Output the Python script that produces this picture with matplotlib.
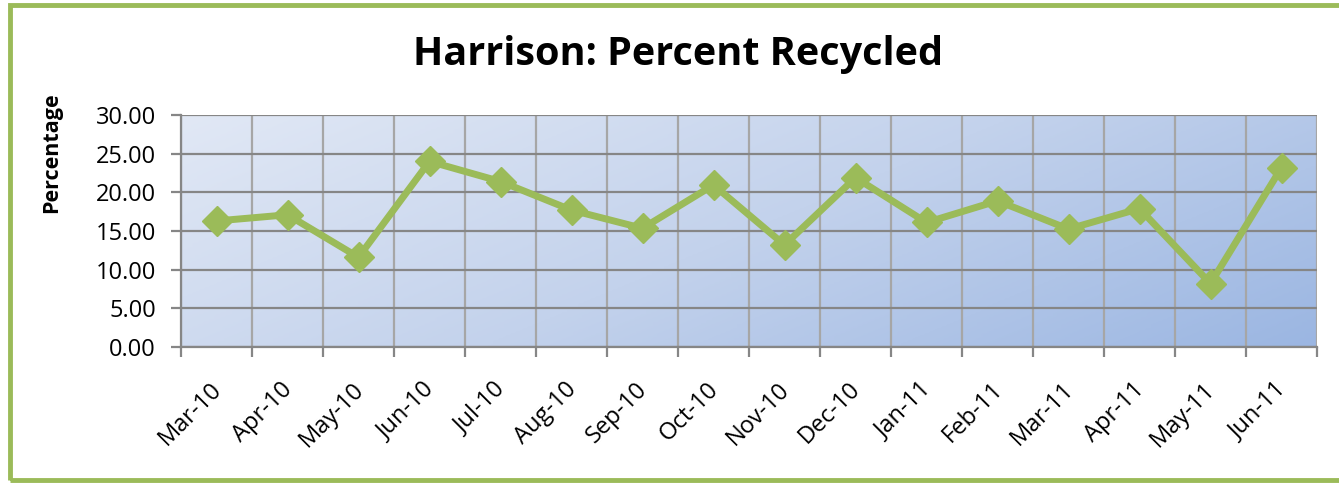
import numpy as np
import matplotlib.pyplot as plt
import matplotlib.transforms as mtransforms
from matplotlib.colors import LinearSegmentedColormap
from matplotlib.patches import Rectangle

# データ
months = ["Mar-10", "Apr-10", "May-10", "Jun-10", "Jul-10", "Aug-10", "Sep-10", "Oct-10",
          "Nov-10", "Dec-10", "Jan-11", "Feb-11", "Mar-11", "Apr-11", "May-11", "Jun-11"]
percent = [16.3, 17.1, 11.6, 24.0, 21.4, 17.7, 15.35, 20.95,
           13.2, 21.9, 16.1, 18.9, 15.25, 17.9, 8.2, 23.2]
y_ticks = [0, 5, 10, 15, 20, 25, 30]

plt.rcParams['font.family'] = ['Open Sans', 'DejaVu Sans']

fig = plt.figure(figsize=(13.39, 4.83), dpi=100)
W, H = 1339, 483
ax = fig.add_axes([181 / W, 1 - 347 / H, (1317 - 181) / W, (347 - 115) / H])

n = len(months)
x = np.arange(n)

# 背景グラデーション（左上が明るく右下が濃い）
gx, gy = np.meshgrid(np.linspace(0, 1, 200), np.linspace(0, 1, 100))
grad = (gx * 0.75 + gy * 0.35) / 1.1
cmap = LinearSegmentedColormap.from_list("bg", ["#E1E8F5", "#C3D2EC", "#9BB6E2"])
ax.imshow(grad, cmap=cmap, extent=(-0.5, n - 0.5, 0, 30), aspect='auto',
          origin='upper', zorder=0)

ax.set_xlim(-0.5, n - 0.5)
ax.set_ylim(0, 30)

# グリッド
for b in np.arange(-0.5, n, 1.0):
    ax.axvline(b, color='#A6A6A6', lw=1.6, zorder=1)
for t in y_ticks:
    ax.axhline(t, color='#868686', lw=1.6, zorder=1)

ax.plot(x, percent, color='#9BBB59', lw=5, marker='D', markersize=15, zorder=3)

ax.set_yticks(y_ticks)
ax.set_yticklabels([f"{t:.2f}" for t in y_ticks], fontsize=17)
ax.set_xticks(np.arange(-0.5, n, 1.0))
ax.set_xticklabels([])
ax.set_xticks(x, minor=True)
ax.set_xticklabels(months, minor=True, rotation=45, ha='right', va='top',
                   rotation_mode='anchor', fontsize=17)
ax.tick_params(axis='x', which='minor', length=0, pad=22)
ax.tick_params(axis='x', which='major', length=7, width=1.6, color='#868686')
ax.tick_params(axis='y', length=7, width=1.6, color='#868686', pad=11)
shift = mtransforms.ScaledTranslation(-7 / 100, 0, fig.dpi_scale_trans)
for lbl in ax.get_xticklabels(minor=True):
    lbl.set_transform(lbl.get_transform() + shift)
for s in ax.spines.values():
    s.set_visible(False)
ax.spines['left'].set_visible(True)
ax.spines['left'].set_color('#868686')
ax.spines['left'].set_linewidth(1.6)
ax.spines['bottom'].set_visible(True)
ax.spines['bottom'].set_color('#868686')
ax.spines['bottom'].set_linewidth(1.6)

ax.set_ylabel("Percentage", fontsize=15.5, fontweight='bold')
ax.yaxis.set_label_coords(62 / W, 1 - 153 / H, transform=fig.transFigure)

fig.text(678 / W, 1 - 55 / H, "Harrison: Percent Recycled", fontsize=28.5,
         fontweight='bold', ha='center', va='center')

# 外枠
fig.patches.append(Rectangle((9.5 / W, 1 - 480 / H), 1.2, (480 - 4.5) / H,
                             transform=fig.transFigure, fill=False,
                             edgecolor='#9BBB59', lw=3.5))

fig.savefig("out.png", dpi=100)
